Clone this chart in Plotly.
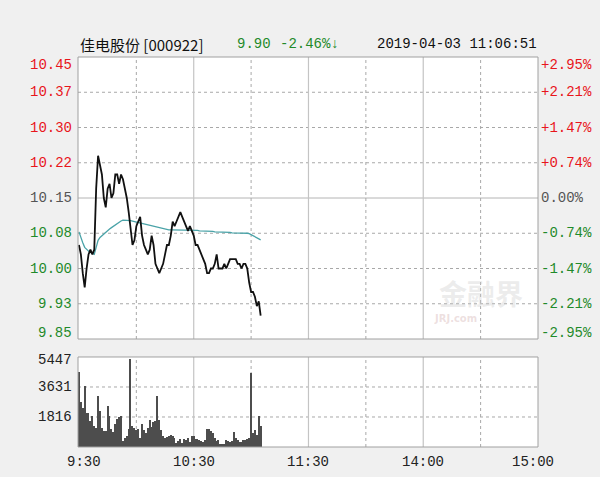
import plotly.graph_objects as go

# ---------------- data ----------------
pre_close = 10.15
minutes = list(range(96))
price = [10.05, 10.03, 9.99, 9.96, 10.00, 10.03, 10.04, 10.03, 10.04, 10.17,
         10.24, 10.22, 10.20, 10.15, 10.13, 10.17, 10.18, 10.15, 10.16, 10.20,
         10.20, 10.18, 10.20, 10.19, 10.17, 10.15, 10.12, 10.09, 10.05, 10.06,
         10.09, 10.10, 10.11, 10.07, 10.05, 10.04, 10.03, 10.04, 10.07, 10.05,
         10.01, 10.00, 9.99, 10.00, 10.01, 10.03, 10.05, 10.05, 10.07, 10.10,
         10.09, 10.10, 10.11, 10.12, 10.11, 10.10, 10.09, 10.08, 10.09, 10.08,
         10.07, 10.05, 10.05, 10.04, 10.03, 10.02, 10.01, 9.99, 9.99, 10.00,
         10.00, 10.01, 10.03, 10.00, 10.00, 10.00, 10.01, 10.00, 10.01, 10.02,
         10.02, 10.02, 10.02, 10.01, 10.01, 10.00, 10.01, 10.01, 10.00, 9.97,
         9.95, 9.95, 9.94, 9.92, 9.93, 9.90]
avg_price = [10.078, 10.065, 10.055, 10.045, 10.040, 10.037, 10.034, 10.032, 10.030, 10.045,
             10.060, 10.066, 10.070, 10.074, 10.078, 10.081, 10.084, 10.087, 10.090, 10.093,
             10.096, 10.099, 10.101, 10.103, 10.103, 10.103, 10.103, 10.102, 10.101, 10.100,
             10.099, 10.098, 10.097, 10.096, 10.095, 10.094, 10.092, 10.091, 10.090, 10.089,
             10.088, 10.087, 10.086, 10.085, 10.084, 10.083, 10.083, 10.082, 10.082, 10.082,
             10.082, 10.082, 10.082, 10.082, 10.082, 10.082, 10.082, 10.082, 10.082, 10.082,
             10.082, 10.081, 10.081, 10.080, 10.080, 10.080, 10.079, 10.079, 10.079, 10.079,
             10.079, 10.078, 10.078, 10.078, 10.078, 10.077, 10.077, 10.077, 10.077, 10.077,
             10.076, 10.076, 10.076, 10.076, 10.076, 10.076, 10.076, 10.076, 10.075, 10.074,
             10.072, 10.070, 10.068, 10.065, 10.063, 10.061]
volume = [4520, 2750, 2350, 3700, 2050, 2050, 1550, 1850, 1250, 1150,
          3100, 2200, 1150, 950, 950, 2500, 1900, 1080, 880, 1400,
          1690, 1810, 1850, 340, 540, 640, 1080, 5300, 1290, 1150,
          1050, 1080, 540, 1410, 1050, 840, 1150, 1610, 1210, 1490,
          1550, 3100, 1650, 1000, 640, 540, 600, 680, 740, 640,
          540, 240, 380, 480, 240, 480, 400, 540, 280, 680,
          640, 480, 500, 440, 340, 300, 440, 1080, 1080, 950,
          840, 540, 340, 440, 200, 160, 200, 400, 340, 280,
          380, 880, 540, 440, 280, 320, 440, 400, 480, 540,
          4450, 840, 1050, 740, 1890, 1290]

price_ticks = [10.45, 10.375, 10.30, 10.225, 10.15, 10.075, 10.00, 9.925, 9.85]
price_labels = ["10.45", "10.37", "10.30", "10.22", "10.15", "10.08", "10.00", "9.93", "9.85"]
pct_labels = ["+2.95%", "+2.21%", "+1.47%", "+0.74%", "0.00%", "-0.74%", "-1.47%", "-2.21%", "-2.95%"]
vol_ticks = [5447, 3631, 1816]
vol_labels = ["5447", "3631", "1816"]
time_ticks = [0, 60, 120, 180, 240]
time_labels = ["9:30", "10:30", "11:30", "14:00", "15:00"]
vgrid_solid = [60, 120, 180]
vgrid_dot = [30, 90, 150, 210]

# ---------------- style ----------------
RED = "#e8151b"
GREEN = "#1f8a2a"
GRAY = "#555555"
GRID = "#a8a8a8"
BG = "#f0f0f0"
MONO = "Liberation Mono, DejaVu Sans Mono, monospace"

fig = go.Figure()
fig.add_trace(go.Scatter(x=minutes, y=avg_price, mode="lines",
                         line=dict(color="#4aa3a8", width=1.3), yaxis="y", xaxis="x",
                         hoverinfo="skip"))
fig.add_trace(go.Scatter(x=minutes, y=price, mode="lines",
                         line=dict(color="#111111", width=1.8), yaxis="y", xaxis="x"))
fig.add_trace(go.Bar(x=minutes, y=volume, marker=dict(color="#4d4d4d", line=dict(width=0)),
                     width=0.65, xaxis="x", yaxis="y2"))

shapes = []
for v in price_ticks[1:-1]:
    solid = abs(v - pre_close) < 1e-9
    shapes.append(dict(type="line", xref="x domain", yref="y", x0=0, x1=1, y0=v, y1=v,
                       line=dict(color="#b4b4b4" if solid else GRID, width=1,
                                 dash="solid" if solid else "dot"), layer="below"))
for v in vol_ticks[1:]:
    shapes.append(dict(type="line", xref="x domain", yref="y2", x0=0, x1=1, y0=v, y1=v,
                       line=dict(color=GRID, width=1, dash="dot"), layer="below"))
for yr in ["y domain", "y2 domain"]:
    for v in vgrid_solid:
        shapes.append(dict(type="line", xref="x", yref=yr, x0=v, x1=v, y0=0, y1=1,
                           line=dict(color="#c4c4c4", width=1.2), layer="below"))
    for v in vgrid_dot:
        shapes.append(dict(type="line", xref="x", yref=yr, x0=v, x1=v, y0=0, y1=1,
                           line=dict(color=GRID, width=1, dash="dot"), layer="below"))
    shapes.append(dict(type="rect", xref="x domain", yref=yr, x0=0, x1=1, y0=0, y1=1,
                       line=dict(color="#a0a0a0", width=1), layer="above"))

ann = []
n = len(price_ticks)
for i, (v, lab, pl) in enumerate(zip(price_ticks, price_labels, pct_labels)):
    if v > pre_close + 1e-9:
        col = RED
    elif v < pre_close - 1e-9:
        col = GREEN
    else:
        col = GRAY
    ys = -8 if i == 0 else (6 if i == n - 1 else 0)
    ann.append(dict(xref="paper", yref="y", x=0, y=v, text=lab, showarrow=False,
                    xanchor="right", yanchor="middle", xshift=-4, yshift=ys,
                    font=dict(family=MONO, size=14, color=col)))
    ann.append(dict(xref="paper", yref="y", x=1, y=v, text=pl, showarrow=False,
                    xanchor="left", yanchor="middle", xshift=1, yshift=ys,
                    font=dict(family=MONO, size=14, color=col)))
for i, (v, lab) in enumerate(zip(vol_ticks, vol_labels)):
    ann.append(dict(xref="paper", yref="y2", x=0, y=v, text=lab, showarrow=False,
                    xanchor="right", yanchor="middle", xshift=-4, yshift=-3 if i == 0 else 0,
                    font=dict(family=MONO, size=14, color="#222222")))
for i, (v, lab) in enumerate(zip(time_ticks, time_labels)):
    xs = 5 if i == 0 else (-5 if i == len(time_ticks) - 1 else 0)
    ann.append(dict(xref="x", yref="paper", x=v, y=0, text=lab, showarrow=False,
                    xanchor="center", yanchor="top", xshift=xs, yshift=-5,
                    font=dict(family=MONO, size=14, color="#222222")))

# header
HDR_Y = 13
ann.append(dict(xref="paper", yref="paper", x=0, y=1, text="佳电股份 [000922]", showarrow=False,
                xanchor="left", yanchor="middle", yshift=HDR_Y,
                font=dict(family="Noto Sans CJK SC, " + MONO, size=15, color="#111111")))
ann.append(dict(xref="paper", yref="paper", x=0.342, y=1, text="9.90", showarrow=False,
                xanchor="left", yanchor="middle", yshift=HDR_Y,
                font=dict(family=MONO, size=14, color=GREEN)))
ann.append(dict(xref="paper", yref="paper", x=0.435, y=1, text="-2.46%↓", showarrow=False,
                xanchor="left", yanchor="middle", yshift=HDR_Y,
                font=dict(family=MONO, size=14, color=GREEN)))
ann.append(dict(xref="paper", yref="paper", x=1.003, y=1, text="2019-04-03 11:06:51", showarrow=False,
                xanchor="right", yanchor="middle", yshift=HDR_Y,
                font=dict(family=MONO, size=14, color="#111111")))
# watermark
ann.append(dict(xref="paper", yref="paper", x=0.875, y=0.395, text="<b>金融界</b>", showarrow=False,
                xanchor="center", yanchor="middle",
                font=dict(family="Noto Sans CJK SC", size=28, color="rgba(200,200,200,0.35)")))
ann.append(dict(xref="paper", yref="paper", x=0.82, y=0.33, text="<b>JRJ.com</b>", showarrow=False,
                xanchor="center", yanchor="middle",
                font=dict(family="DejaVu Sans", size=10, color="rgba(215,185,185,0.45)")))

fig.update_layout(
    width=600, height=477,
    margin=dict(l=78, r=62, t=57, b=30),
    paper_bgcolor=BG,
    plot_bgcolor="#ffffff",
    showlegend=False,
    bargap=0,
    xaxis=dict(range=[-0.5, 240], showgrid=False, zeroline=False, showticklabels=False,
               ticks="", anchor="y2", fixedrange=True),
    yaxis=dict(domain=[0.2769, 1], range=[price_ticks[-1], price_ticks[0]], showgrid=False,
               zeroline=False, showticklabels=False, ticks=""),
    yaxis2=dict(domain=[0, 0.2308], range=[0, vol_ticks[0]], showgrid=False,
                zeroline=False, showticklabels=False, ticks=""),
    shapes=shapes,
    annotations=ann,
)

fig.write_html("out.html", config={"displayModeBar": False},
               post_script="document.body.style.margin='0';document.body.style.padding='0';"
                           "document.body.style.background='%s';"
                           "document.body.style.overflow='hidden';" % BG)
